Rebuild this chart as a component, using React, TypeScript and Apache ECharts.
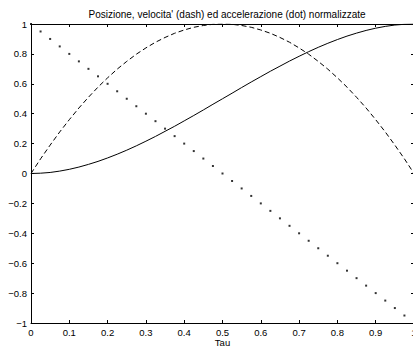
import React, { useEffect, useRef } from "react";
import * as echarts from "echarts";

const titleText = "Posizione, velocita' (dash) ed accelerazione (dot) normalizzate";
const xName = "Tau";

const tau = [
  0, 0.025, 0.05, 0.075, 0.1, 0.125, 0.15, 0.175, 0.2, 0.225, 0.25, 0.275, 0.3, 0.325, 0.35, 0.375, 0.4,
  0.425, 0.45, 0.475, 0.5, 0.525, 0.55, 0.575, 0.6, 0.625, 0.65, 0.675, 0.7, 0.725, 0.75, 0.775, 0.8,
  0.825, 0.85, 0.875, 0.9, 0.925, 0.95, 0.975, 1,
];

const posizione = [
  0, 0.002, 0.007, 0.016, 0.028, 0.043, 0.061, 0.081, 0.104, 0.129, 0.156, 0.185, 0.216, 0.248, 0.282,
  0.316, 0.352, 0.388, 0.425, 0.463, 0.5, 0.537, 0.575, 0.612, 0.648, 0.684, 0.718, 0.752, 0.784, 0.815,
  0.844, 0.871, 0.896, 0.919, 0.939, 0.957, 0.972, 0.984, 0.993, 0.998, 1,
];

const velocita = [
  0, 0.098, 0.19, 0.278, 0.36, 0.438, 0.51, 0.578, 0.64, 0.698, 0.75, 0.798, 0.84, 0.878, 0.91, 0.938,
  0.96, 0.978, 0.99, 0.998, 1, 0.998, 0.99, 0.978, 0.96, 0.938, 0.91, 0.878, 0.84, 0.798, 0.75, 0.698,
  0.64, 0.578, 0.51, 0.438, 0.36, 0.278, 0.19, 0.098, 0,
];

const accelerazione = [
  1, 0.95, 0.9, 0.85, 0.8, 0.75, 0.7, 0.65, 0.6, 0.55, 0.5, 0.45, 0.4, 0.35, 0.3, 0.25, 0.2, 0.15, 0.1,
  0.05, 0, -0.05, -0.1, -0.15, -0.2, -0.25, -0.3, -0.35, -0.4, -0.45, -0.5, -0.55, -0.6, -0.65, -0.7,
  -0.75, -0.8, -0.85, -0.9, -0.95, -1,
];

const FONT = "'Liberation Sans', Arial, Helvetica, sans-serif";

export default function App() {
  const ref = useRef<HTMLDivElement>(null);
  useEffect(() => {
    if (!ref.current) return;
    const chart = echarts.init(ref.current, undefined, { renderer: "svg" });
    const pair = (ys: number[]) => tau.map((t, i) => [t, ys[i]]);
    const fmt = (v: number) => {
      const s = String(Math.round(v * 10) / 10);
      return s.replace("-", "\u2212");
    };
    const axisCommon = {
      axisLine: { show: true, onZero: false, lineStyle: { color: "#000", width: 1 } },
      axisTick: { show: true, inside: true, length: 3, lineStyle: { color: "#000", width: 1 } },
      splitLine: { show: false },
    };
    chart.setOption({
      animation: false,
      backgroundColor: "#fff",
      title: {
        text: titleText,
        left: 222,
        textAlign: "center",
        top: 4,
        textStyle: { fontFamily: FONT, fontSize: 10, fontWeight: "normal", color: "#000" },
      },
      grid: {
        left: 31,
        top: 24,
        width: 383,
        height: 299,
        containLabel: false,
        outerBoundsMode: "none",
      },
      xAxis: [
        {
          type: "value",
          min: 0,
          max: 1,
          interval: 0.1,
          position: "bottom",
          name: xName,
          nameLocation: "middle",
          nameGap: 14,
          nameMoveOverlap: false,
          nameTextStyle: { fontFamily: FONT, fontSize: 9.5, color: "#000", verticalAlign: "top" },
          axisLabel: { fontFamily: FONT, fontSize: 9.5, color: "#000", margin: 4, formatter: fmt },
          ...axisCommon,
        },
        {
          type: "value",
          min: 0,
          max: 1,
          interval: 0.1,
          position: "top",
          axisLabel: { show: false },
          ...axisCommon,
        },
      ],
      yAxis: [
        {
          type: "value",
          min: -1,
          max: 1,
          interval: 0.2,
          position: "left",
          axisLabel: { fontFamily: FONT, fontSize: 9.5, color: "#000", margin: 4, formatter: fmt },
          ...axisCommon,
        },
        {
          type: "value",
          min: -1,
          max: 1,
          interval: 0.2,
          position: "right",
          axisLabel: { show: false },
          ...axisCommon,
        },
      ],
      series: [
        {
          name: "posizione",
          type: "line",
          data: pair(posizione),
          showSymbol: false,
          symbol: "none",
          lineStyle: { color: "#000", width: 1 },
        },
        {
          name: "velocita",
          type: "line",
          data: pair(velocita),
          showSymbol: false,
          symbol: "none",
          lineStyle: { color: "#000", width: 1, type: [5, 3] },
        },
        {
          name: "accelerazione",
          type: "scatter",
          data: pair(accelerazione),
          symbol: "rect",
          symbolSize: 2,
          itemStyle: { color: "#000" },
        },
      ],
    });
    return () => chart.dispose();
  }, []);
  return (
    <div
      ref={ref}
      style={{ position: "absolute", left: 0, top: 0, width: 413, height: 348 }}
    />
  );
}
